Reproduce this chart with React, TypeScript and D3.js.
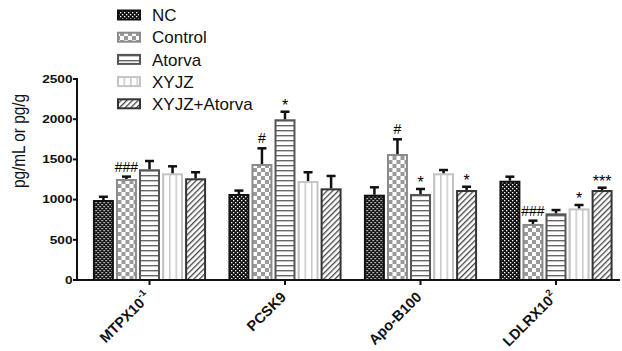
import React from "react";
import * as d3 from "d3";

const categories = ["MTPX10", "PCSK9", "Apo-B100", "LDLRX10"];
const categorySup = ["-1", "", "", "2"];
const series = ["NC", "Control", "Atorva", "XYJZ", "XYJZ+Atorva"];
const values = [
  [995, 1070, 1061, 1235],
  [1256, 1443, 1567, 697],
  [1377, 1999, 1070, 829],
  [1327, 1231, 1327, 891],
  [1265, 1140, 1119, 1119],
];
const errors = [
  [40, 42, 92, 50],
  [30, 195, 183, 41],
  [103, 94, 62, 41],
  [87, 109, 41, 42],
  [75, 154, 41, 29],
];
const marks = [
  ["", "", "", ""],
  ["###", "#", "#", "###"],
  ["", "*", "*", ""],
  ["", "", "", "*"],
  ["", "", "*", "***"],
];
const yTicks = [0, 500, 1000, 1500, 2000, 2500];
const yTitle = "pg/mL or pg/g";

const strokes = ["#111", "#8a8a8a", "#555", "#c4c4c4", "#333"];
const fills = ["url(#pNC)", "url(#pCtrl)", "url(#pAt)", "url(#pXY)", "url(#pXA)"];

export default function App() {
  const y = d3.scaleLinear().domain([0, 2500]).range([280, 79]);
  const gx = d3.scalePoint<string>().domain(categories).range([149.5, 556]);
  const bx = d3
    .scaleBand<string>()
    .domain(series)
    .range([-57.5, 57.5])
    .paddingInner(0.09)
    .paddingOuter(0.04);
  const bw = bx.bandwidth();
  const font = "Liberation Sans, Arial, sans-serif";

  return (
    <svg
      width={622}
      height={351}
      style={{ position: "absolute", left: 0, top: 0, background: "#fff" }}
      fontFamily={font}
    >
      <defs>
        <pattern id="pNC" width="4" height="4" patternUnits="userSpaceOnUse">
          <rect width="4" height="4" fill="#111" />
          <rect x="0" y="0" width="1.3" height="1.3" fill="#fff" />
          <rect x="2" y="2" width="1.3" height="1.3" fill="#fff" />
        </pattern>
        <pattern id="pCtrl" width="8" height="8" patternUnits="userSpaceOnUse">
          <rect width="8" height="8" fill="#fff" />
          <rect x="0" y="0" width="4" height="4" fill="#9a9a9a" />
          <rect x="4" y="4" width="4" height="4" fill="#9a9a9a" />
        </pattern>
        <pattern id="pAt" width="5" height="5" patternUnits="userSpaceOnUse">
          <rect width="5" height="5" fill="#fff" />
          <rect x="0" y="0" width="5" height="1.4" fill="#666" />
        </pattern>
        <pattern id="pXY" width="6.5" height="6" patternUnits="userSpaceOnUse">
          <rect width="6.5" height="6" fill="#fff" />
          <rect x="0" y="0" width="1.5" height="6" fill="#c8c8c8" />
        </pattern>
        <pattern
          id="pXA"
          width="4"
          height="4"
          patternUnits="userSpaceOnUse"
          patternTransform="rotate(45)"
        >
          <rect width="4" height="4" fill="#fff" />
          <rect x="0" y="0" width="1.3" height="4" fill="#444" />
        </pattern>
      </defs>

      {/* bars */}
      {categories.map((c, ci) => (
        <g key={c} transform={`translate(${gx(c)},0)`}>
          {series.map((s, si) => {
            const v = values[si][ci];
            const e = errors[si][ci];
            const x0 = bx(s)!;
            const xc = x0 + bw / 2;
            const top = y(v);
            const et = y(v + e);
            const m = marks[si][ci];
            const star = m.startsWith("*");
            return (
              <g key={s}>
                <rect
                  x={x0 + 1}
                  y={top + 1}
                  width={bw - 2}
                  height={y(0) - top - 1}
                  fill={fills[si]}
                  stroke={strokes[si]}
                  strokeWidth={2}
                />
                <line x1={xc} x2={xc} y1={top} y2={et} stroke="#111" strokeWidth={2.5} />
                <line x1={xc - 4.5} x2={xc + 4.5} y1={et} y2={et} stroke="#111" strokeWidth={2.5} />
                {m && (
                  <text
                    x={xc}
                    y={star ? et - 1 : et - 5}
                    textAnchor="middle"
                    fontSize={star ? 16 : 14}
                    fill="#000"
                  >
                    {m}
                  </text>
                )}
              </g>
            );
          })}
        </g>
      ))}

      {/* y axis */}
      <line x1={77} x2={77} y1={78} y2={281} stroke="#111" strokeWidth={2} />
      {yTicks.map((t) => (
        <g key={t}>
          <line x1={73} x2={77} y1={y(t)} y2={y(t)} stroke="#111" strokeWidth={2} />
          <text
            transform={`translate(72.5,${y(t)}) scale(1.3,1)`}
            dy="0.36em"
            textAnchor="end"
            fontSize={10.5}
            fontWeight="bold"
            fill="#111"
          >
            {t}
          </text>
        </g>
      ))}
      <text
        transform={`translate(25,141) rotate(-90)`}
        textAnchor="middle"
        fontSize={17.5}
        textLength={94}
        lengthAdjust="spacingAndGlyphs"
        fill="#111"
      >
        {yTitle}
      </text>

      {/* x axis */}
      <line x1={76} x2={620} y1={280} y2={280} stroke="#111" strokeWidth={2} />
      {categories.map((c, ci) => (
        <g key={c}>
          <line x1={gx(c)} x2={gx(c)} y1={280} y2={285} stroke="#111" strokeWidth={2} />
          <text
            transform={`translate(${gx(c)! + 2},${298}) rotate(-45)`}
            textAnchor="end"
            fontSize={14.5}
            fontWeight="bold"
            fill="#111"
          >
            {c}
            {categorySup[ci] && (
              <tspan dy={-7} fontSize={9.5}>
                {categorySup[ci]}
              </tspan>
            )}
          </text>
        </g>
      ))}

      {/* legend */}
      {series.map((s, si) => {
        const cy = 15 + si * 22.2;
        return (
          <g key={s}>
            <rect
              x={118}
              y={cy - 4.5}
              width={22}
              height={9}
              fill={fills[si]}
              stroke={strokes[si]}
              strokeWidth={2}
            />
            <text x={152} y={cy} dy="0.36em" fontSize={17} fill="#111">
              {s}
            </text>
          </g>
        );
      })}
    </svg>
  );
}
